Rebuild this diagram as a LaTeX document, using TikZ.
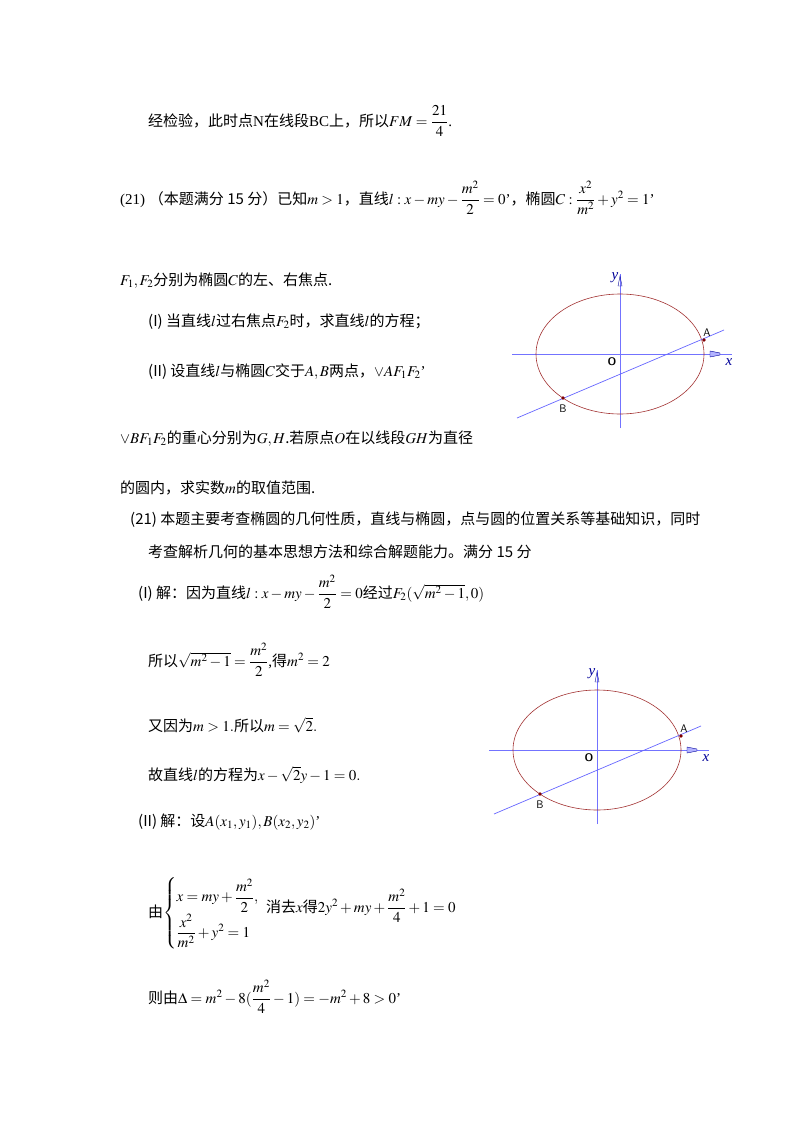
\documentclass[tikz,border=0pt]{standalone}
\usepackage{amsmath}
\usepackage{mathptmx}
\usepackage[no-math]{fontspec}
\setmainfont{Liberation Serif}
\newfontfamily\cjk{Noto Sans CJK SC}
\tikzset{t/.style={anchor=base west,inner sep=0pt,font=\fontsize{15}{18}\selectfont},
axis/.style={draw=blue!55!white,line width=0.7pt},
ell/.style={draw=red!55!black!80,line width=0.6pt},
lin/.style={draw=blue!60!white,line width=0.7pt},
pt/.style={fill=red!50!black,circle,inner sep=1.3pt},
lab/.style={font=\sffamily\fontsize{11}{12}\selectfont}}
\newcommand\fig[2]{%
\begin{scope}[shift={(#1,#2)}]
\coordinate (O) at (0,0);
\draw[axis] (-108,0) -- (112,0);
\draw[axis] (0,74) -- (0,-80);
\draw[ell] (O) ellipse (84 and 60);
\coordinate (P1) at (-103,64); \coordinate (P2) at (104,-24);
\draw[lin] (P1) -- (P2);
\node[pt] (A) at (84,-14) {}; \node[pt] (B) at (-57,44) {};
\node[lab,anchor=south] at (87,-14) {A};
\node[lab,anchor=north] at (-57,47) {B};
\node[lab,font=\sffamily\bfseries\fontsize{11}{12}\selectfont] at (-8,8) {O};
\node[text=blue!60!black,font=\itshape\fontsize{15}{15}\selectfont] at (109,8) {x};
\node[text=blue!60!black,font=\itshape\fontsize{15}{15}\selectfont] at (-5,-76) {y};
\draw[blue!60!black,fill=blue!30] (90,-3) -- (100,-1) -- (100,1) -- (90,3) -- cycle;
\draw[blue!60!black] (-2,-68) -- (0,-78) -- (2,-68) -- cycle;
\end{scope}}
\begin{document}
\begin{tikzpicture}[x=1pt,y=-1pt]
\useasboundingbox (0,0) rectangle (800,1132);
\fill[white] (0,0) rectangle (800,1132);
\node[t] at (148,126) {{\cjk 经检验，此时点}N{\cjk 在线段}BC{\cjk 上，所以}$FM=\dfrac{21}{4}$.};
\node[t] at (120,204) {(21)\ {\cjk （本题满分 15 分）已知}$m>1${\cjk ，直线}$l:x-my-\dfrac{m^2}{2}=0$'{\cjk ，椭圆}$C:\dfrac{x^2}{m^2}+y^2=1$'};
\node[t] at (120,285) {$F_1,F_2${\cjk 分别为椭圆}$C${\cjk 的左、右焦点.}};
\node[t] at (148,326) {{\cjk (I) 当直线}$l${\cjk 过右焦点}$F_2${\cjk 时，求直线}$l${\cjk 的方程；}};
\node[t] at (148,376) {{\cjk (II) 设直线}$l${\cjk 与椭圆}$C${\cjk 交于}$A,B${\cjk 两点，}$\vee AF_1F_2$'};
\node[t] at (120,443) {$\vee BF_1F_2${\cjk 的重心分别为}$G,H${\cjk .若原点}$O${\cjk 在以线段}$GH${\cjk 为直径}};
\node[t] at (120,493) {{\cjk 的圆内，求实数}$m${\cjk 的取值范围.}};
\node[t] at (130,524) {{\cjk (21) 本题主要考查椭圆的几何性质，直线与椭圆，点与圆的位置关系等基础知识，同时}};
\node[t] at (148,557) {{\cjk 考查解析几何的基本思想方法和综合解题能力。满分 15 分}};
\node[t] at (138,598) {{\cjk (I) 解：因为直线}$l:x-my-\dfrac{m^2}{2}=0${\cjk 经过}$F_2(\sqrt{m^2-1},0)$};
\node[t] at (148,666) {{\cjk 所以}$\sqrt{m^2-1}=\dfrac{m^2}{2}$,{\cjk 得}$m^2=2$};
\node[t] at (148,731) {{\cjk 又因为}$m>1.${\cjk 所以}$m=\sqrt{2}.$};
\node[t] at (148,780) {{\cjk 故直线}$l${\cjk 的方程为}$x-\sqrt{2}y-1=0.$};
\node[t] at (138,826) {{\cjk (II) 解：设}$A(x_1,y_1),B(x_2,y_2)$'};
\node[t] (cs) at (148,917) {{\cjk 由}$\begin{cases}x=my+\dfrac{m^2}{2},\\[6pt] \dfrac{x^2}{m^2}+y^2=1\end{cases}$};
\node[t] at (266,912) {{\cjk 消去}$x${\cjk 得}$2y^2+my+\dfrac{m^2}{4}+1=0$};
\node[t] at (148,1003) {{\cjk 则由}$\Delta=m^2-8(\dfrac{m^2}{4}-1)=-m^2+8>0$'};
\fig{620}{354}
\fig{597}{750}
\end{tikzpicture}
\end{document}
